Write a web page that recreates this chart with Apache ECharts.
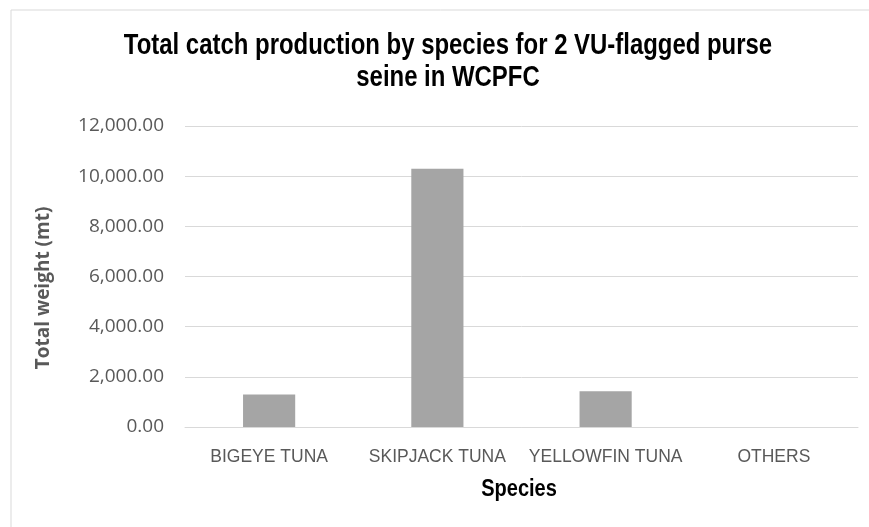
<!DOCTYPE html>
<html>
<head>
<meta charset="utf-8">
<script src="https://cdn.jsdelivr.net/npm/echarts@6/dist/echarts.min.js"></script>
<style>
  html, body { margin: 0; padding: 0; background: #ffffff; }
  #chart { width: 869px; height: 527px; }
</style>
</head>
<body>
<div id="chart"></div>
<script>
// Catch by species (metric tonnes)
const species = ['BIGEYE TUNA', 'SKIPJACK TUNA', 'YELLOWFIN TUNA', 'OTHERS'];
const totalWeight = [1300, 10300, 1430, 0];
const yTicks = [0, 2000, 4000, 6000, 8000, 10000, 12000];

const titleLines = ['Total catch production by species for 2 VU-flagged purse', 'seine in WCPFC'];
const xAxisTitle = 'Species';
const yAxisTitle = 'Total weight (mt)';

const sans = '"Liberation Sans", Arial, sans-serif';
const body = '"Open Sans", "Noto Sans", sans-serif';

// Condensed bold headings: regular bold face squeezed horizontally
function heading(text, x, y, size, squeeze, color) {
  return {
    type: 'text',
    x: x, y: y,
    scaleX: squeeze,
    silent: true,
    style: {
      text: text,
      align: 'center',
      verticalAlign: 'middle',
      fontFamily: sans,
      fontSize: size,
      fontWeight: 'bold',
      fill: color
    }
  };
}

const chart = echarts.init(document.getElementById('chart'));
chart.setOption({
  backgroundColor: '#ffffff',
  animation: false,
  graphic: [
    {
      type: 'rect',
      shape: { x: 11, y: 10, width: 900, height: 600 },
      style: { fill: 'none', stroke: '#d9d9d9', lineWidth: 1 },
      silent: true
    },
    heading(titleLines[0], 448, 46, 29, 0.825, '#000000'),
    heading(titleLines[1], 448, 78, 29, 0.825, '#000000'),
    heading(xAxisTitle, 519, 490, 23, 0.87, '#000000'),
    {
      type: 'text',
      x: 44, y: 288,
      rotation: Math.PI / 2,
      silent: true,
      style: {
        text: yAxisTitle,
        align: 'center',
        verticalAlign: 'middle',
        fontFamily: body,
        fontSize: 19,
        fontWeight: 'bold',
        fill: '#595959'
      }
    }
  ],
  grid: { left: 185, right: 11, top: 126, bottom: 100, containLabel: false },
  xAxis: {
    type: 'category',
    data: species,
    axisLine: { show: true, lineStyle: { color: '#d9d9d9', width: 1 } },
    axisTick: { show: false },
    axisLabel: { fontFamily: sans, fontSize: 17.5, color: '#595959', margin: 21, interval: 0 }
  },
  yAxis: {
    type: 'value',
    min: yTicks[0],
    max: yTicks[yTicks.length - 1],
    interval: yTicks[1] - yTicks[0],
    axisLine: { show: false },
    axisTick: { show: false },
    splitLine: { lineStyle: { color: '#d9d9d9', width: 1 } },
    axisLabel: {
      fontFamily: body,
      fontSize: 19,
      color: '#595959',
      margin: 21,
      formatter: v => v.toLocaleString('en-US', { minimumFractionDigits: 2, maximumFractionDigits: 2 })
    }
  },
  series: [{
    type: 'bar',
    data: totalWeight,
    barWidth: '31%',
    itemStyle: { color: '#a5a5a5' }
  }]
});
</script>
</body>
</html>
